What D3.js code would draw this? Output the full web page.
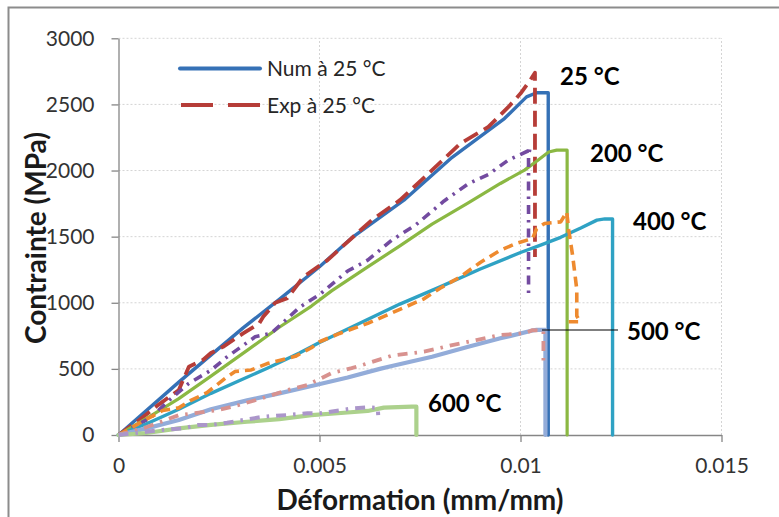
<!DOCTYPE html>
<html><head><meta charset="utf-8">
<script src="https://cdn.jsdelivr.net/npm/d3@7"></script>
<style>
html,body{margin:0;padding:0;background:#fff;}
svg{display:block;}
</style></head>
<body>
<svg id="chart" width="779" height="517"></svg>
<script>
// ---------- DATA (strain mm/mm, stress MPa) ----------
const xTicks = [0, 0.005, 0.01, 0.015];
const xTickLabels = ["0", "0.005", "0.01", "0.015"];
const yTicks = [0, 500, 1000, 1500, 2000, 2500, 3000];
const yTickLabels = ["0", "500", "1000", "1500", "2000", "2500", "3000"];

const num25 = [[0,0],[0.0015,400],[0.0031,810],[0.004,1025],[0.005,1272],[0.0058,1490],[0.0071,1776],[0.0083,2100],[0.0096,2393],[0.01015,2557],[0.0104,2588],[0.01069,2588],[0.01069,0]];
const exp25 = [[0,0],[0.0005,110],[0.001,230],[0.0015,340],[0.00175,516],[0.0021,567],[0.0023,620],[0.0026,667],[0.0031,768],[0.0035,844],[0.0036,894],[0.0039,1000],[0.0042,1035],[0.0046,1196],[0.0052,1322],[0.0057,1461],[0.0063,1625],[0.007,1776],[0.0078,2003],[0.0085,2204],[0.0092,2330],[0.0097,2481],[0.01,2582],[0.01024,2683],[0.01036,2740],[0.01036,1347]];
const num200 = [[0,0],[0.0007,125],[0.0015,275],[0.0023,445],[0.0032,640],[0.004,815],[0.0048,975],[0.0053,1090],[0.0062,1272],[0.007,1430],[0.0078,1595],[0.0087,1755],[0.0095,1902],[0.0101,2003],[0.0104,2070],[0.0107,2140],[0.0109,2154],[0.01116,2154],[0.01116,0]];
const exp200 = [[0,0],[0.0008,130],[0.00125,260],[0.00175,390],[0.0023,490],[0.0027,590],[0.0034,743],[0.0038,770],[0.0042,880],[0.0045,965],[0.005,1062],[0.0057,1240],[0.0062,1322],[0.0068,1474],[0.0074,1590],[0.0081,1770],[0.0087,1900],[0.0092,1970],[0.0097,2080],[0.0102,2150],[0.01024,2175],[0.0102,2110],[0.0102,1050]];
const num400 = [[0,0],[0.0007,85],[0.0015,195],[0.0023,315],[0.003,410],[0.0037,505],[0.0045,620],[0.005,700],[0.006,845],[0.007,990],[0.008,1120],[0.009,1255],[0.01,1380],[0.0105,1436],[0.011,1495],[0.0115,1565],[0.0119,1625],[0.0121,1634],[0.01229,1634],[0.01229,0]];
const exp400 = [[0,0],[0.0007,120],[0.0011,185],[0.0015,205],[0.0018,262],[0.0022,320],[0.0027,440],[0.0029,480],[0.0033,492],[0.0037,540],[0.0044,595],[0.0048,660],[0.005,705],[0.0055,768],[0.0062,844],[0.007,950],[0.0076,1030],[0.008,1110],[0.0085,1196],[0.009,1305],[0.0095,1398],[0.0099,1449],[0.0103,1486],[0.0104,1560],[0.0106,1600],[0.011,1612],[0.01115,1687],[0.0112,1550],[0.0113,1350],[0.0114,1100],[0.0114,900],[0.01148,856],[0.0112,856]];
const num500 = [[0,0],[0.0007,50],[0.0015,113],[0.0023,195],[0.0032,262],[0.004,315],[0.0048,370],[0.0057,435],[0.0065,500],[0.0068,522],[0.0078,592],[0.0087,667],[0.0095,731],[0.0103,790],[0.0104,795],[0.01062,795],[0.01062,0]];
const exp500 = [[0,0],[0.0007,60],[0.0015,150],[0.0019,165],[0.0025,190],[0.003,227],[0.0037,290],[0.0042,340],[0.0047,378],[0.0053,468],[0.0058,506],[0.0062,542],[0.0068,600],[0.0076,630],[0.0083,680],[0.0089,718],[0.0095,756],[0.0101,770],[0.0103,793],[0.01057,790],[0.01057,510]];
const num600 = [[0,0],[0.0007,15],[0.0015,50],[0.0023,76],[0.0032,100],[0.004,120],[0.0048,150],[0.0057,170],[0.0062,182],[0.0066,207],[0.0073,214],[0.00741,214],[0.00741,0]];
const exp600 = [[0,0],[0.0007,25],[0.0011,38],[0.0016,50],[0.002,76],[0.0023,76],[0.0027,93],[0.0032,118],[0.0036,138],[0.0042,151],[0.0047,164],[0.005,164],[0.0058,200],[0.0062,209],[0.00645,205],[0.00646,150]];

const legendNames = ["Num à 25 °C", "Exp à 25 °C"];
const tempLabels = ["25 °C", "200 °C", "400 °C", "500 °C", "600 °C"];
const xTitle = "Déformation (mm/mm)";
const yTitle = "Contrainte (MPa)";

// ---------- LAYOUT / STYLE ----------
const svg = d3.select("#chart");
const W = 779, H = 517;
const x = d3.scaleLinear().domain([0, 0.015]).range([118.5, 721.5]);
const y = d3.scaleLinear().domain([0, 3000]).range([435, 38.3]);

svg.append("rect").attr("width", W).attr("height", H).attr("fill", "#fff");
// outer frame
svg.append("rect").attr("x", 8.5).attr("y", 7.5).attr("width", 900).attr("height", 700)
  .attr("fill", "none").attr("stroke", "#8c8c8c").attr("stroke-width", 2);

// grid
const grid = svg.append("g");
grid.selectAll("line.h").data(yTicks.filter(d => d > 0)).join("line")
  .attr("x1", x(0)).attr("x2", x(0.015)).attr("y1", d => y(d)).attr("y2", d => y(d))
  .attr("stroke", "#d4d4d4").attr("stroke-width", 1).attr("stroke-dasharray", "2,2");
grid.selectAll("line.v").data(xTicks.filter(d => d > 0)).join("line")
  .attr("y1", y(0)).attr("y2", y(3000)).attr("x1", d => x(d)).attr("x2", d => x(d))
  .attr("stroke", "#d4d4d4").attr("stroke-width", 1).attr("stroke-dasharray", "2,2");

// axes
const tickFont = "Lato, 'Open Sans', sans-serif";
const yAxis = svg.append("g").attr("transform", `translate(${x(0)},0)`)
  .call(d3.axisLeft(y).tickValues(yTicks).tickFormat((d, i) => yTickLabels[i]).tickSize(7).tickSizeOuter(0).tickPadding(17));
const xAxis = svg.append("g").attr("transform", `translate(0,${y(0)})`)
  .call(d3.axisBottom(x).tickValues(xTicks).tickFormat((d, i) => xTickLabels[i]).tickSize(7).tickSizeOuter(0).tickPadding(16));
[yAxis, xAxis].forEach(a => {
  a.select(".domain").attr("stroke", "#868686").attr("stroke-width", 1.3);
  a.selectAll(".tick line").attr("stroke", "#868686").attr("stroke-width", 1.3);
  a.selectAll(".tick text").attr("font-family", tickFont).attr("font-size", 21).attr("fill", "#333");
});

// series
const line = d3.line().x(d => x(d[0])).y(d => y(d[1]));
const series = [
  {data: num25,  color: "#3571b6", w: 3.4, dash: null},
  {data: exp25,  color: "#b63d38", w: 3.8, dash: "16,7"},
  {data: num200, color: "#8bb843", w: 3.2, dash: null},
  {data: exp200, color: "#734ba0", w: 3.6, dash: "9,6,2.5,6"},
  {data: num400, color: "#2fa2c4", w: 3.4, dash: null},
  {data: exp400, color: "#ee8a2f", w: 3.6, dash: "10,6"},
  {data: num500, color: "#93acd9", w: 4.2, dash: null},
  {data: exp500, color: "#d8928f", w: 3.8, dash: "10,7,2.5,7"},
  {data: num600, color: "#acd18c", w: 4.2, dash: null},
  {data: exp600, color: "#ab96ca", w: 4.0, dash: "10,7,2.5,7"}
];
const sg = svg.append("g");
series.forEach(s => {
  sg.append("path").attr("d", line(s.data)).attr("fill", "none")
    .attr("stroke", s.color).attr("stroke-width", s.w)
    .attr("stroke-linejoin", "round").attr("stroke-linecap", s.dash ? "butt" : "round")
    .attr("stroke-dasharray", s.dash);
});

// leader line for 500 °C
svg.append("line").attr("x1", 542).attr("x2", 618).attr("y1", 330).attr("y2", 330)
  .attr("stroke", "#000").attr("stroke-width", 1.2);

// temperature labels
const labelPos = [[560, 85], [590, 162], [633, 230], [627, 340], [428, 412]];
svg.selectAll("text.temp").data(tempLabels).join("text")
  .attr("x", (d, i) => labelPos[i][0]).attr("y", (d, i) => labelPos[i][1])
  .attr("font-family", "Lato, sans-serif").attr("font-weight", "bold").attr("font-size", 24)
  .attr("fill", "#000").text(d => d);

// legend
const legY = [68.5, 105];
const legG = svg.append("g");
legG.append("line").attr("x1", 180).attr("x2", 260).attr("y1", legY[0]).attr("y2", legY[0])
  .attr("stroke", series[0].color).attr("stroke-width", 4).attr("stroke-linecap", "round");
legG.append("line").attr("x1", 181).attr("x2", 260).attr("y1", legY[1]).attr("y2", legY[1])
  .attr("stroke", series[1].color).attr("stroke-width", 4).attr("stroke-dasharray", "32,15");
legendNames.forEach((n, i) => {
  legG.append("text").attr("x", 267).attr("y", legY[i] + 7.5)
    .attr("font-family", tickFont).attr("font-size", 21).attr("fill", "#262626").text(n);
});

// axis titles
svg.append("text").attr("x", 420).attr("y", 510).attr("text-anchor", "middle")
  .attr("font-family", "Lato, sans-serif").attr("font-weight", "bold").attr("font-size", 28)
  .attr("fill", "#1a1a1a").text(xTitle);
svg.append("text").attr("transform", "translate(46,238) rotate(-90)").attr("text-anchor", "middle")
  .attr("font-family", "Lato, sans-serif").attr("font-weight", "bold").attr("font-size", 28)
  .attr("fill", "#1a1a1a").text(yTitle);
</script>
</body></html>
